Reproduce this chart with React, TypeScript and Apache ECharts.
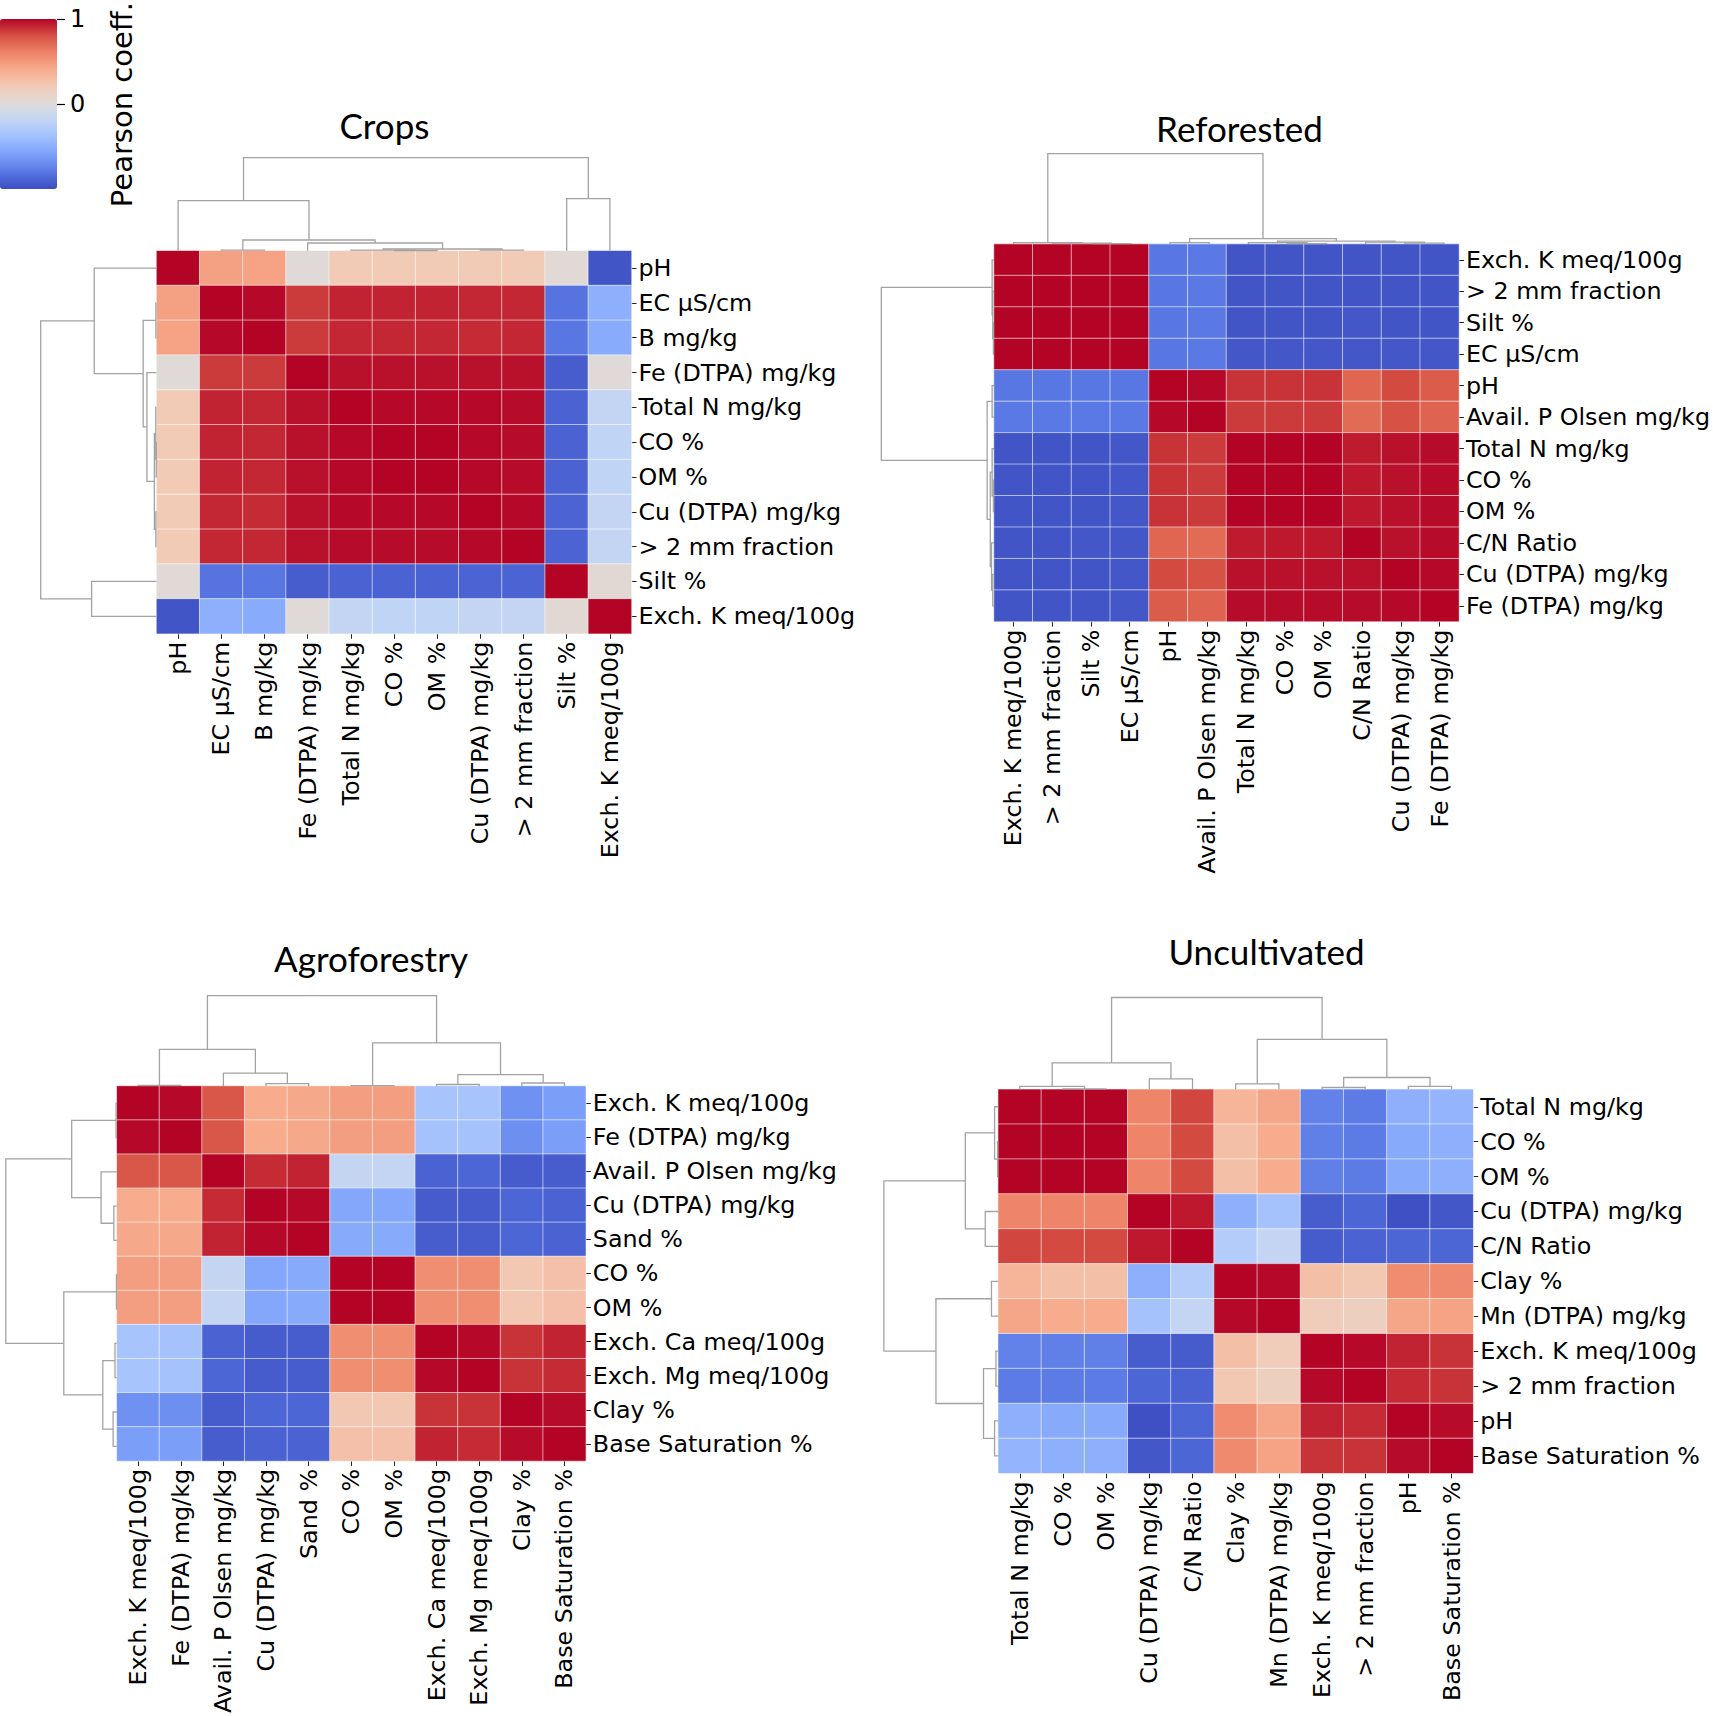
import React, { useEffect, useRef } from 'react';
import * as echarts from 'echarts';

const W = 1713;
const H = 1716;

// matplotlib "coolwarm" colour map sampled at 11 stops
const COOLWARM = ['#3b4cc0', '#5977e3', '#7b9ff9', '#9ebeff', '#c0d4f5', '#dddcdc', '#f2cbb7', '#f7ac8e', '#ee8468', '#d65244', '#b40426'];
const COLORBAR_TICKS = [0, 1];

// ---------------- Crops ----------------
const cropsLabels = ['pH', 'EC µS/cm', 'B mg/kg', 'Fe (DTPA) mg/kg', 'Total N mg/kg', 'CO %', 'OM %', 'Cu (DTPA) mg/kg', '> 2 mm fraction', 'Silt %', 'Exch. K meq/100g'];
const cropsValues = [
  [1, 0.46, 0.45, 0.02, 0.2, 0.2, 0.2, 0.2, 0.2, 0.03, -0.96],
  [0.46, 1, 0.99, 0.86, 0.92, 0.92, 0.92, 0.91, 0.91, -0.82, -0.5],
  [0.45, 0.99, 1, 0.86, 0.91, 0.91, 0.91, 0.9, 0.91, -0.8, -0.52],
  [0.02, 0.86, 0.86, 1, 0.97, 0.97, 0.97, 0.97, 0.97, -0.92, 0.02],
  [0.2, 0.92, 0.91, 0.97, 1, 0.99, 0.99, 0.99, 0.98, -0.9, -0.18],
  [0.2, 0.92, 0.91, 0.97, 0.99, 1, 1, 0.99, 0.98, -0.9, -0.2],
  [0.2, 0.92, 0.91, 0.97, 0.99, 1, 1, 0.99, 0.98, -0.9, -0.2],
  [0.2, 0.91, 0.9, 0.97, 0.99, 0.99, 0.99, 1, 0.99, -0.89, -0.18],
  [0.2, 0.91, 0.91, 0.97, 0.98, 0.98, 0.98, 0.99, 1, -0.89, -0.18],
  [0.03, -0.82, -0.8, -0.92, -0.9, -0.9, -0.9, -0.89, -0.89, 1, 0.05],
  [-0.96, -0.5, -0.52, 0.02, -0.18, -0.2, -0.2, -0.18, -0.18, 0.05, 1],
];

// ---------------- Reforested ----------------
const refLabels = ['Exch. K meq/100g', '> 2 mm fraction', 'Silt %', 'EC µS/cm', 'pH', 'Avail. P Olsen mg/kg', 'Total N mg/kg', 'CO %', 'OM %', 'C/N Ratio', 'Cu (DTPA) mg/kg', 'Fe (DTPA) mg/kg'];
const refValues = [
  [1, 1, 1, 1, -0.8, -0.79, -0.96, -0.96, -0.96, -0.96, -0.96, -0.96],
  [1, 1, 1, 1, -0.8, -0.79, -0.96, -0.96, -0.96, -0.96, -0.96, -0.96],
  [1, 1, 1, 1, -0.8, -0.79, -0.96, -0.96, -0.96, -0.95, -0.96, -0.96],
  [1, 1, 1, 1, -0.8, -0.79, -0.95, -0.95, -0.95, -0.95, -0.95, -0.95],
  [-0.8, -0.8, -0.8, -0.8, 1, 0.99, 0.88, 0.88, 0.88, 0.72, 0.82, 0.76],
  [-0.79, -0.79, -0.79, -0.79, 0.99, 1, 0.86, 0.86, 0.86, 0.7, 0.8, 0.73],
  [-0.96, -0.96, -0.96, -0.95, 0.88, 0.86, 1, 1, 1, 0.94, 0.97, 0.98],
  [-0.96, -0.96, -0.96, -0.95, 0.88, 0.86, 1, 1, 1, 0.95, 0.97, 0.98],
  [-0.96, -0.96, -0.96, -0.95, 0.88, 0.86, 1, 1, 1, 0.95, 0.97, 0.98],
  [-0.96, -0.96, -0.95, -0.95, 0.72, 0.7, 0.94, 0.95, 0.95, 1, 0.97, 0.98],
  [-0.96, -0.96, -0.96, -0.95, 0.82, 0.8, 0.97, 0.97, 0.97, 0.97, 1, 0.99],
  [-0.96, -0.96, -0.96, -0.95, 0.76, 0.73, 0.98, 0.98, 0.98, 0.98, 0.99, 1],
];

// ---------------- Agroforestry ----------------
const agroLabels = ['Exch. K meq/100g', 'Fe (DTPA) mg/kg', 'Avail. P Olsen mg/kg', 'Cu (DTPA) mg/kg', 'Sand %', 'CO %', 'OM %', 'Exch. Ca meq/100g', 'Exch. Mg meq/100g', 'Clay %', 'Base Saturation %'];
const agroValues = [
  [1, 0.99, 0.78, 0.4, 0.42, 0.47, 0.47, -0.35, -0.35, -0.67, -0.6],
  [0.99, 1, 0.78, 0.4, 0.42, 0.47, 0.47, -0.36, -0.36, -0.68, -0.6],
  [0.78, 0.78, 1, 0.9, 0.92, -0.17, -0.18, -0.9, -0.88, -0.93, -0.92],
  [0.4, 0.4, 0.9, 1, 0.99, -0.55, -0.55, -0.93, -0.93, -0.88, -0.9],
  [0.42, 0.42, 0.92, 0.99, 1, -0.53, -0.53, -0.92, -0.92, -0.88, -0.9],
  [0.47, 0.47, -0.17, -0.55, -0.53, 1, 1, 0.55, 0.55, 0.22, 0.27],
  [0.47, 0.47, -0.18, -0.55, -0.53, 1, 1, 0.55, 0.55, 0.22, 0.27],
  [-0.35, -0.36, -0.9, -0.93, -0.92, 0.55, 0.55, 1, 0.99, 0.88, 0.92],
  [-0.35, -0.36, -0.88, -0.93, -0.92, 0.55, 0.55, 0.99, 1, 0.88, 0.9],
  [-0.67, -0.68, -0.93, -0.88, -0.88, 0.22, 0.22, 0.88, 0.88, 1, 0.98],
  [-0.6, -0.6, -0.92, -0.9, -0.9, 0.27, 0.27, 0.92, 0.9, 0.98, 1],
];

// ---------------- Uncultivated ----------------
const uncLabels = ['Total N mg/kg', 'CO %', 'OM %', 'Cu (DTPA) mg/kg', 'C/N Ratio', 'Clay %', 'Mn (DTPA) mg/kg', 'Exch. K meq/100g', '> 2 mm fraction', 'pH', 'Base Saturation %'];
const uncValues = [
  [1, 1, 1, 0.6, 0.83, 0.35, 0.43, -0.75, -0.78, -0.5, -0.46],
  [1, 1, 1, 0.6, 0.82, 0.28, 0.4, -0.76, -0.78, -0.53, -0.5],
  [1, 1, 1, 0.6, 0.82, 0.28, 0.4, -0.76, -0.78, -0.53, -0.5],
  [0.6, 0.6, 0.6, 1, 0.95, -0.5, -0.36, -0.92, -0.88, -0.98, -0.95],
  [0.83, 0.82, 0.82, 0.95, 1, -0.27, -0.18, -0.93, -0.9, -0.88, -0.88],
  [0.35, 0.28, 0.28, -0.5, -0.27, 1, 0.99, 0.28, 0.22, 0.56, 0.57],
  [0.43, 0.4, 0.4, -0.36, -0.18, 0.99, 1, 0.18, 0.15, 0.43, 0.45],
  [-0.75, -0.76, -0.76, -0.92, -0.93, 0.28, 0.18, 1, 0.99, 0.92, 0.88],
  [-0.78, -0.78, -0.78, -0.88, -0.9, 0.22, 0.15, 0.99, 1, 0.9, 0.88],
  [-0.5, -0.53, -0.53, -0.98, -0.88, 0.56, 0.43, 0.92, 0.9, 1, 0.98],
  [-0.46, -0.5, -0.5, -0.95, -0.88, 0.57, 0.45, 0.88, 0.88, 0.98, 1],
];

// ---------------- Dendrogram linkage trees (leaf = index in label order, h = linkage height) ----------------
type Node = number | { h: number; l: Node; r: Node };
const n = (h: number, l: Node, r: Node): Node => ({ h, l, r });

const cropsTree = n(1.86,
  n(1.0, 0, n(0.214, n(0.01, 1, 2), n(0.154, 3, n(0.034, n(0.012, 4, n(0.004, 5, 6)), n(0.01, 7, 8))))),
  n(1.042, 9, 10));
const refTree = n(1.81,
  n(0.03, 0, n(0.02, 1, n(0.01, 2, 3))),
  n(0.11, n(0.03, 4, 5), n(0.06, n(0.03, 6, n(0.01, 7, 8)), n(0.04, 9, n(0.02, 10, 11)))));
const agroTree = n(1.806,
  n(0.734, n(0.012, 0, 1), n(0.256, 2, n(0.048, 3, 4))),
  n(0.862, n(0.006, 5, 6), n(0.228, n(0.03, 7, 8), n(0.06, 9, 10))));
const uncTree = n(1.836,
  n(0.528, n(0.058, 0, n(0.01, 1, 2)), n(0.208, 3, 4)),
  n(1.0, n(0.108, 5, 6), n(0.236, n(0.036, 7, 8), n(0.058, 9, 10))));

const panels = [
  { title: 'Crops', labels: cropsLabels, values: cropsValues, tree: cropsTree, left: 156.5, top: 250.7, width: 475, height: 383, tx: 384.5, ty: 125 },
  { title: 'Reforested', labels: refLabels, values: refValues, tree: refTree, left: 994, top: 244.1, width: 469.5, height: 377.5, tx: 1239.5, ty: 127.5 },
  { title: 'Agroforestry', labels: agroLabels, values: agroValues, tree: agroTree, left: 116.8, top: 1086, width: 469, height: 377.5, tx: 371, ty: 958 },
  { title: 'Uncultivated', labels: uncLabels, values: uncValues, tree: uncTree, left: 998.2, top: 1089.3, width: 475, height: 384, tx: 1266.5, ty: 951 },
];

const COL_DENDRO_H = 100; // px for col dendrogram, axis 0..2
const COL_MAX = 2;
const ROW_MAX = 1.9;
const ROW_DENDRO_W = 118.3; // px for row dendrogram, axis 0..1.9
const LINK_COLOR = '#a3a3a3';
const LABEL_FONT = 'DejaVu Sans';
const LABEL_SIZE = 23.8;

function linkSegments(tree: Node) {
  const out: number[][] = [];
  const walk = (nd: Node): { p: number; h: number } => {
    if (typeof nd === 'number') return { p: nd + 0.5, h: 0 };
    const a = walk(nd.l);
    const b = walk(nd.r);
    out.push([a.p, b.p, a.h, b.h, nd.h]);
    return { p: (a.p + b.p) / 2, h: nd.h };
  };
  walk(tree);
  return out;
}

function buildOption() {
  const grid: any[] = [];
  const xAxis: any[] = [];
  const yAxis: any[] = [];
  const heatSeries: any[] = [];
  const dendroSeries: any[] = [];
  const graphic: any[] = [];

  panels.forEach((p, k) => {
    const nLeaf = p.labels.length;
    const gi = k * 3;
    grid.push({ left: p.left, top: p.top, width: p.width, height: p.height });
    grid.push({ left: p.left, top: p.top - COL_DENDRO_H, width: p.width, height: COL_DENDRO_H });
    grid.push({ left: p.left - ROW_DENDRO_W, top: p.top, width: ROW_DENDRO_W, height: p.height });

    const labelStyle = { fontFamily: LABEL_FONT, fontSize: LABEL_SIZE, color: '#000' };
    xAxis.push({
      gridIndex: gi, type: 'category', data: p.labels, position: 'bottom',
      axisLine: { show: false }, splitLine: { show: false },
      axisTick: { show: true, alignWithLabel: true, length: 5, lineStyle: { color: '#222', width: 1 } },
      axisLabel: { ...labelStyle, rotate: 90, interval: 0, margin: 8 },
    });
    yAxis.push({
      gridIndex: gi, type: 'category', data: p.labels, position: 'right', inverse: true,
      axisLine: { show: false }, splitLine: { show: false },
      axisTick: { show: true, alignWithLabel: true, length: 5, lineStyle: { color: '#222', width: 1 } },
      axisLabel: { ...labelStyle, interval: 0, margin: 7 },
    });
    xAxis.push({ gridIndex: gi + 1, type: 'value', min: 0, max: nLeaf, show: false });
    yAxis.push({ gridIndex: gi + 1, type: 'value', min: 0, max: COL_MAX, show: false });
    xAxis.push({ gridIndex: gi + 2, type: 'value', min: 0, max: ROW_MAX, inverse: true, show: false });
    yAxis.push({ gridIndex: gi + 2, type: 'value', min: 0, max: nLeaf, inverse: true, show: false });

    heatSeries.push({
      type: 'heatmap', xAxisIndex: gi, yAxisIndex: gi,
      data: p.values.flatMap((row, i) => row.map((v, j) => [j, i, v])),
      itemStyle: { borderColor: 'rgba(255,255,255,0.55)', borderWidth: 1 },
      emphasis: { disabled: true },
      silent: true,
    });

    const segs = linkSegments(p.tree);
    dendroSeries.push({
      type: 'custom', xAxisIndex: gi + 1, yAxisIndex: gi + 1, data: segs, silent: true,
      renderItem: (_params: any, api: any) => {
        const xl = api.value(0), xr = api.value(1), hl = api.value(2), hr = api.value(3), h = api.value(4);
        const pts = [api.coord([xl, hl]), api.coord([xl, h]), api.coord([xr, h]), api.coord([xr, hr])];
        return { type: 'polyline', shape: { points: pts }, style: { stroke: LINK_COLOR, lineWidth: 1.3, fill: 'none' } };
      },
    });
    dendroSeries.push({
      type: 'custom', xAxisIndex: gi + 2, yAxisIndex: gi + 2, data: segs, silent: true,
      renderItem: (_params: any, api: any) => {
        const yl = api.value(0), yr = api.value(1), hl = api.value(2), hr = api.value(3), h = api.value(4);
        const pts = [api.coord([hl, yl]), api.coord([h, yl]), api.coord([h, yr]), api.coord([hr, yr])];
        return { type: 'polyline', shape: { points: pts }, style: { stroke: LINK_COLOR, lineWidth: 1.3, fill: 'none' } };
      },
    });

    graphic.push({
      type: 'text', x: p.tx, y: p.ty, silent: true,
      style: {
        text: p.title, fill: '#000', font: '35px Lato', fontFamily: 'Lato', fontSize: 35,
        align: 'center', verticalAlign: 'middle', textAlign: 'center', textVerticalAlign: 'middle',
      },
    });
  });

  // colour bar: full-height axis holding the name (grid 12), upper-half axis for ticks 0 and 1 (grid 13)
  grid.push({ left: 0, top: 19, width: 57, height: 170 });
  xAxis.push({ gridIndex: 12, type: 'value', show: false });
  yAxis.push({
    gridIndex: 12, type: 'value', min: -1, max: 1, position: 'right',
    axisLine: { show: false }, splitLine: { show: false }, axisTick: { show: false }, axisLabel: { show: false },
    name: 'Pearson coeff.', nameLocation: 'middle', nameRotate: 90, nameGap: 50,
    nameTextStyle: { fontFamily: LABEL_FONT, fontSize: 29, color: '#000' },
  });
  grid.push({ left: 0, top: 19, width: 57, height: 85 });
  xAxis.push({ gridIndex: 13, type: 'value', min: 0, max: 1, show: false });
  yAxis.push({
    gridIndex: 13, type: 'value', min: 0, max: 1, interval: 1, position: 'right',
    axisLine: { show: false, onZero: false }, splitLine: { show: false },
    axisTick: { show: true, length: 8, lineStyle: { color: '#000', width: 1.2 } },
    axisLabel: { fontFamily: LABEL_FONT, fontSize: 24, color: '#000', margin: 13 },
  });
  // carrier series so the colour-bar tick axis holds the tick values (draws nothing itself)
  const tickCarrier = {
    type: 'custom', xAxisIndex: 13, yAxisIndex: 13, silent: true,
    data: COLORBAR_TICKS.map((v) => [0, v]),
    renderItem: () => ({ type: 'group', children: [] }),
  };

  return {
    animation: false,
    backgroundColor: '#ffffff',
    grid, xAxis, yAxis,
    visualMap: {
      type: 'continuous', min: -1, max: 1, seriesIndex: [0, 1, 2, 3],
      inRange: { color: COOLWARM },
      left: 0, top: 19, itemWidth: 57, itemHeight: 170, padding: 0,
      calculable: false, hoverLink: false, text: ['', ''], show: true,
    },
    series: [...heatSeries, ...dendroSeries, tickCarrier],
    graphic,
  };
}

export default function App() {
  const ref = useRef<HTMLDivElement>(null);
  useEffect(() => {
    if (!ref.current) return;
    const chart = echarts.init(ref.current, undefined, { renderer: 'svg' });
    chart.setOption(buildOption() as any);
    return () => chart.dispose();
  }, []);
  return <div ref={ref} style={{ position: 'absolute', left: 0, top: 0, width: W, height: H }} />;
}
